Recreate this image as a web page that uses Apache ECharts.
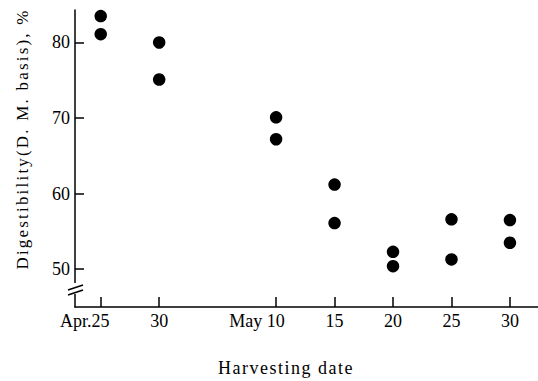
<!DOCTYPE html>
<html>
<head>
<meta charset="utf-8">
<script src="https://cdn.jsdelivr.net/npm/echarts@6.0.0/dist/echarts.min.js"></script>
<style>
  html, body { margin: 0; padding: 0; background: #fff; }
  #chart { width: 538px; height: 381px; }
</style>
</head>
<body>
<div id="chart"></div>
<script>
  // harvest dates as days after Apr. 25
  const harvestDays = [0, 5, 15, 20, 25, 30, 35]
  const upperValues = [83.5, 80.0, 70.1, 61.2, 52.3, 56.6, 56.5]
  const lowerValues = [81.1, 75.1, 67.2, 56.1, 50.4, 51.3, 53.5]
  const tickDays = [0, 5, 15, 20, 25, 30, 35]
  const tickLabels = ['Apr.25', '30', 'May 10', '15', '20', '25', '30']
  const yTicks = [50, 60, 70, 80]

  const FONT = 'Liberation Serif'

  const points = []
  harvestDays.forEach((d, i) => {
    points.push([d, upperValues[i]])
    points.push([d, lowerValues[i]])
  })

  const chart = echarts.init(document.getElementById('chart'), null, { renderer: 'svg' })

  // the printed figure uses widely spaced lettering for the axis titles
  function spaceLetters() {
    document.querySelectorAll('#chart text').forEach(t => {
      const s = t.textContent || ''
      if (s.indexOf('Digestibility') === 0) t.setAttribute('letter-spacing', '2.2')
      else if (s.indexOf('Harvesting') === 0) t.setAttribute('letter-spacing', '1.5')
    })
  }
  chart.on('finished', spaceLetters)

  chart.setOption({
    animation: false,
    backgroundColor: '#fff',
    grid: { left: 75, right: 0, top: 10, bottom: 74 },
    xAxis: {
      type: 'value',
      min: -2.2,
      max: 37.4,
      axisLine: { onZero: false, lineStyle: { color: '#000', width: 1.5 } },
      axisTick: { inside: true, length: 10, customValues: tickDays, lineStyle: { color: '#000', width: 1.5 } },
      axisLabel: {
        customValues: tickDays,
        margin: 5,
        color: '#000',
        fontSize: 18,
        fontFamily: FONT,
        formatter: function (val) {
          const lab = tickLabels[tickDays.indexOf(val)] || ''
          const m = lab.match(/^(\D+)(\d+)$/)
          if (!m) return lab
          // keep the day number centred on the tick, month hangs left
          const pad = m[1].indexOf('Apr') === 0 ? 'pa' : 'pm'
          return '{mo|' + m[1] + '}' + m[2] + '{' + pad + '| }'
        },
        rich: {
          mo: { fontSize: 18, fontFamily: FONT, color: '#000' },
          pa: { width: 32 },
          pm: { width: 38 }
        }
      },
      splitLine: { show: false }
    },
    yAxis: {
      type: 'value',
      min: 45,
      max: 84.3,
      axisLine: { onZero: false, lineStyle: { color: '#000', width: 1.5 } },
      axisTick: { inside: true, length: 9, customValues: yTicks, lineStyle: { color: '#000', width: 1.5 } },
      axisLabel: { customValues: yTicks, margin: 5, color: '#000', fontSize: 18, fontFamily: FONT },
      splitLine: { show: false }
    },
    graphic: [
      // axis break on the y axis
      { type: 'rect', z: 100, shape: { x: 71, y: 283, width: 8, height: 11 }, style: { fill: '#fff' } },
      { type: 'line', z: 101, shape: { x1: 68, y1: 290, x2: 83, y2: 285 }, style: { stroke: '#000', lineWidth: 1.5 } },
      { type: 'line', z: 101, shape: { x1: 68, y1: 295, x2: 83, y2: 290 }, style: { stroke: '#000', lineWidth: 1.5 } },
      {
        type: 'text', z: 100, x: 22, y: 139, rotation: Math.PI / 2,
        style: { text: 'Digestibility(D. M. basis), %', fontSize: 17, fontFamily: FONT, fill: '#000', align: 'center', verticalAlign: 'middle' }
      },
      {
        type: 'text', z: 100, x: 286, y: 368,
        style: { text: 'Harvesting date', fontSize: 18, fontFamily: FONT, fill: '#000', align: 'center', verticalAlign: 'middle' }
      }
    ],
    series: [{
      type: 'scatter',
      symbol: 'circle',
      symbolSize: 12.5,
      itemStyle: { color: '#000', opacity: 1 },
      data: points
    }]
  })

  spaceLetters()
  setTimeout(spaceLetters, 50)
</script>
</body>
</html>
